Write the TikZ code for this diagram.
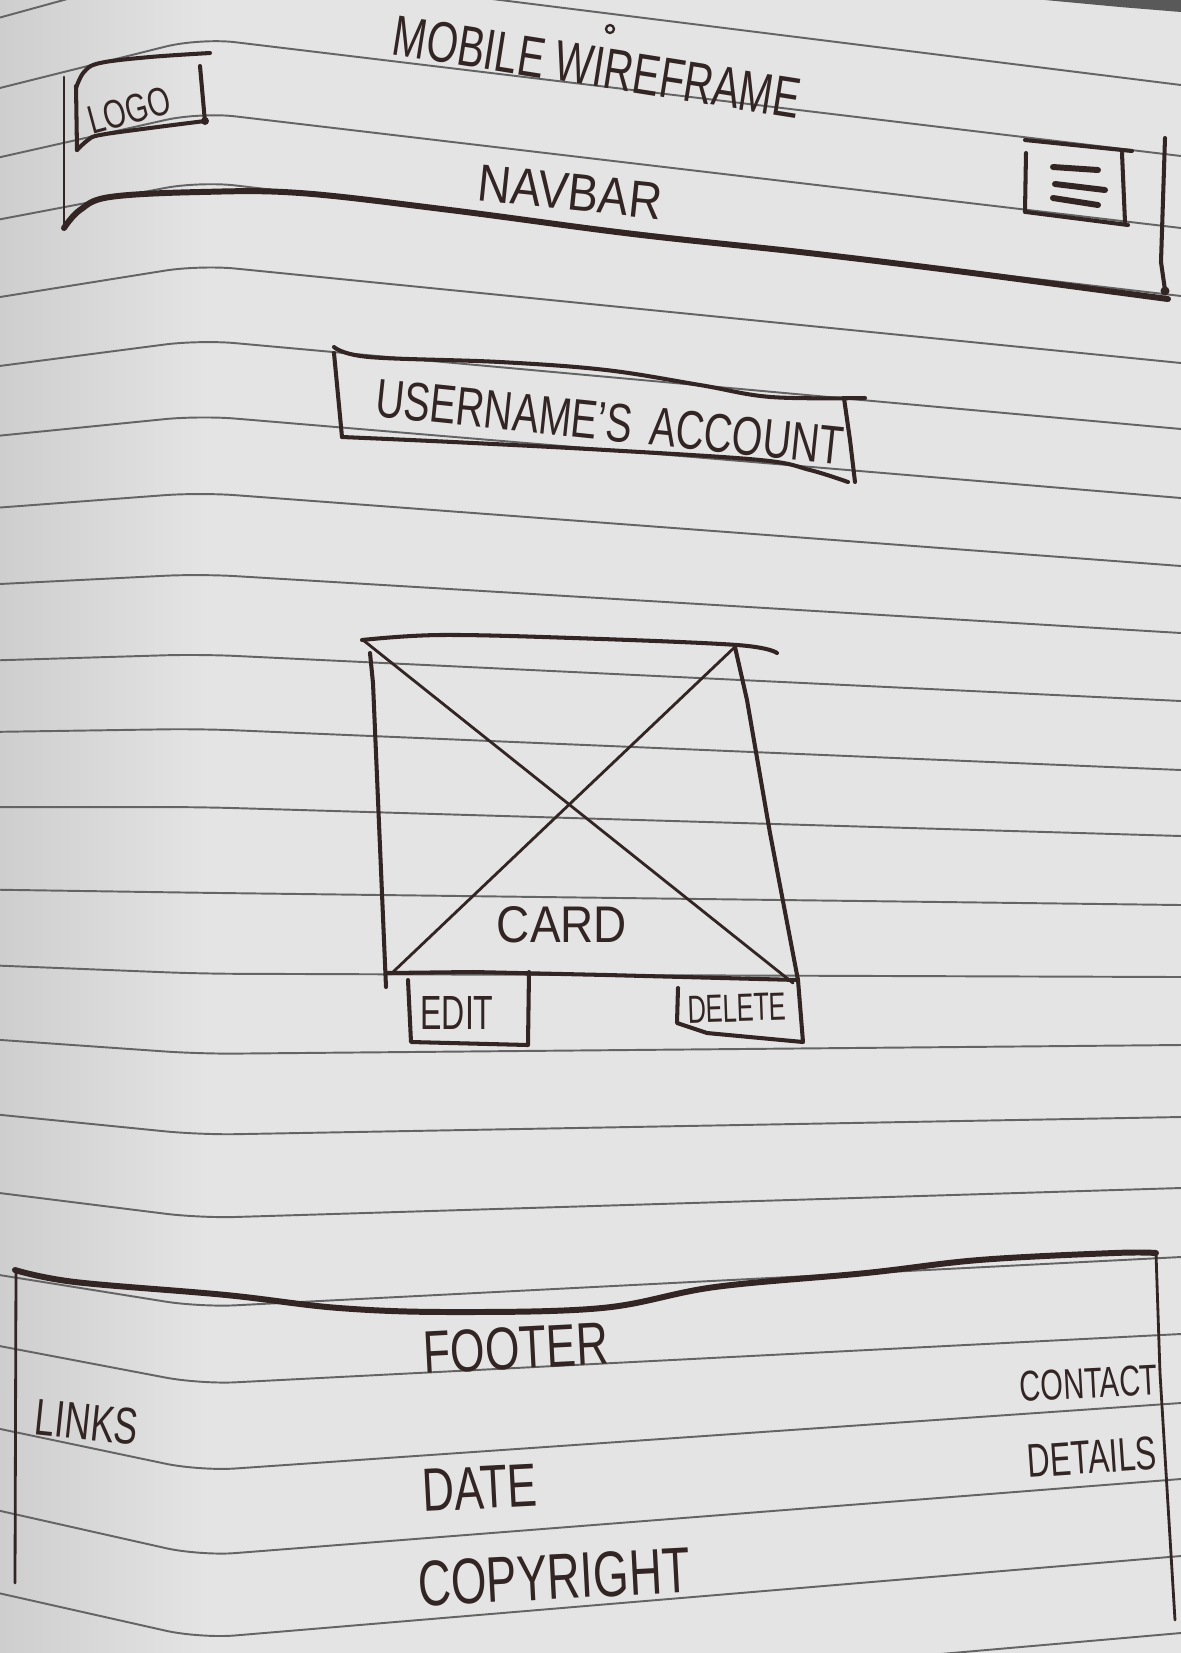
\documentclass[tikz,border=0pt]{standalone}
\usepackage{fontspec}
\setmainfont{Liberation Sans}
\usepackage{graphicx}
\definecolor{ink}{RGB}{50,37,35}
\definecolor{paper}{RGB}{228,228,228}
\definecolor{paperdark}{RGB}{206,206,206}
\definecolor{ruling}{RGB}{100,100,100}
% one drawing unit = one pixel of a 1181 x 1653 sheet
\newlength\pxu
\setlength\pxu{0.01cm}
% hand lettering: text stretched to a given width and cap height (in px)
\newcommand{\hand}[3]{\resizebox{#1\pxu}{#2\pxu}{#3}}

\begin{document}
\begin{tikzpicture}[x=0.01cm, y=-0.01cm,
  ruleline/.style={draw=ruling, line width=0.55pt, rounded corners=0.35cm},
  pen/.style={draw=ink, line cap=round, line join=round},
  heavy/.style={pen, line width=1.7pt},
  stroke/.style={pen, line width=1.15pt},
  fine/.style={pen, line width=0.8pt},
  hair/.style={pen, line width=0.65pt},
  lbl/.style={inner sep=0pt, text=ink}]

\useasboundingbox (0,0) rectangle (1181,1653);

% ---- notebook paper ----
\fill[paper] (0,0) rectangle (1181,1653);
\shade[left color=paperdark, right color=paper] (0,0) rectangle (205,1653);
\fill[black!65] (1045,0) -- (1181,0) -- (1181,12) -- (1120,7) -- cycle;

% ruled lines: y at x=300, y at the right edge, drop of the left end
\foreach \L/\R/\d in {-25/85/55, 50/156/50, 124/228/45, 193/296/38, 275/363/32,
    349/429/26, 424/498/20, 500/566/15, 580/633/10, 659/701/6, 733/770/3,
    810/836/0, 894/905/-3, 974/977/-8, 1053/1045/-14, 1133/1117/-20,
    1215/1188/-25, 1302/1257/-32, 1379/1334/-38, 1464/1403/-42,
    1548/1479/-45, 1630/1556/-45, 1710/1633/-45} {
  \pgfmathsetmacro\yk{\L-(\R-\L)*100/881}
  \pgfmathsetmacro\yl{\yk+\d}
  \draw[ruleline] (0,\yl) -- (200,\yk) -- (1181,\R);
}

% ---- title ----
\node[lbl, rotate=-9] (title) at (597,67) {\hand{411}{40}{MOBILE WIREFRAME}};
\draw[hair] (610,29) circle[radius=0.04cm];

% ---- navbar ----
\draw[fine] (64,77) -- (64,228);
\draw[heavy] plot[smooth, tension=0.6] coordinates {(64,228) (80,210) (110,197) (200,192)
  (300,193) (450,210) (633,234) (800,252) (949,270) (1100,290) (1168,299)};
\draw[stroke] (1165,138) -- (1163,200) -- (1161,262) -- (1165,290);
\fill[ink] (1165,291) circle[radius=0.045cm];

% logo box
\draw[stroke] plot[smooth, tension=0.6] coordinates {(76,88) (84,72) (100,63) (150,57) (210,53)};
\draw[stroke] (76,86) -- (77,150);
\draw[stroke] plot[smooth, tension=0.6] coordinates {(77,150) (88,140) (100,135) (150,128) (205,121)};
\draw[stroke] (200,66) -- (205,122);
\fill[ink] (205,121) circle[radius=0.04cm];
\node[lbl, rotate=15] (logo) at (129,110) {\hand{84}{28}{LOGO}};

\node[lbl, rotate=-6] (navbar) at (570,192) {\hand{185}{36}{NAVBAR}};

% menu button
\draw[stroke] (1025,140) -- (1132,151);
\draw[stroke] (1026,153) -- (1025,212);
\draw[stroke] (1026,212) -- (1128,225);
\draw[stroke] (1122,153) -- (1125,222);
\draw[heavy] (1053,167) -- (1098,170);
\draw[heavy] (1055,184) -- (1105,190);
\draw[heavy] (1053,198) -- (1098,205);

% ---- account heading ----
\draw[stroke] plot[smooth, tension=0.6] coordinates {(334,347) (369,357) (500,362)
  (606,370) (700,385) (771,397) (865,398)};
\draw[stroke] (334,353) -- (342,437);
\draw[stroke] plot[smooth, tension=0.6] coordinates {(342,437) (453,442) (606,450) (760,460)
  (810,470) (848,482)};
\draw[stroke] (844,398) -- (850,440) -- (855,482);
\node[lbl, rotate=-6] (account) at (610,422) {\hand{470}{38}{USERNAME'S\hspace{0.45em}ACCOUNT}};

% ---- card ----
\draw[stroke] plot[smooth, tension=0.6] coordinates {(362,640) (440,635) (573,638) (737,645) (777,653)};
\draw[stroke] (370,653) -- (373,683) -- (386,987);
\draw[stroke] (735,647) -- (747,700) -- (770,833) -- (798,980);
\draw[stroke] (388,973) -- (473,972) -- (607,975) -- (798,980);
\draw[fine] (363,640) -- (793,983);
\draw[fine] (737,645) -- (393,972);
\node[lbl] (card) at (562,925) {\hand{130}{36}{CARD}};

% buttons
\draw[stroke] (408,980) -- (411,1042) -- (528,1045) -- (529,972);
\node[lbl] (edit) at (457,1013) {\hand{73}{33}{EDIT}};
\draw[stroke] (678,988) -- (677,1023) -- (707,1033) -- (803,1042) -- (798,980);
\node[lbl, rotate=2] (delete) at (737,1008) {\hand{99}{27}{DELETE}};

% ---- footer ----
\draw[heavy] plot[smooth, tension=0.6] coordinates {(15,1270) (75,1282) (226,1295) (339,1308)
  (452,1312) (602,1308) (715,1287) (866,1273) (979,1260) (1114,1253) (1156,1253)};
\draw[fine] (16,1272) -- (15,1583);
\draw[fine] (1156,1253) -- (1160,1373) -- (1175,1620);

\node[lbl, rotate=3] (footer) at (516,1348) {\hand{185}{42}{FOOTER}};
\node[lbl, rotate=-6] (links) at (87,1422) {\hand{103}{36}{LINKS}};
\node[lbl, rotate=3] (contact) at (1089,1383) {\hand{138}{30}{CONTACT}};
\node[lbl, rotate=4] (details) at (1092,1457) {\hand{129}{33}{DETAILS}};
\node[lbl, rotate=3] (date) at (480,1488) {\hand{115}{42}{DATE}};
\node[lbl, rotate=3] (copyright) at (554,1577) {\hand{272}{45}{COPYRIGHT}};

\end{tikzpicture}
\end{document}
